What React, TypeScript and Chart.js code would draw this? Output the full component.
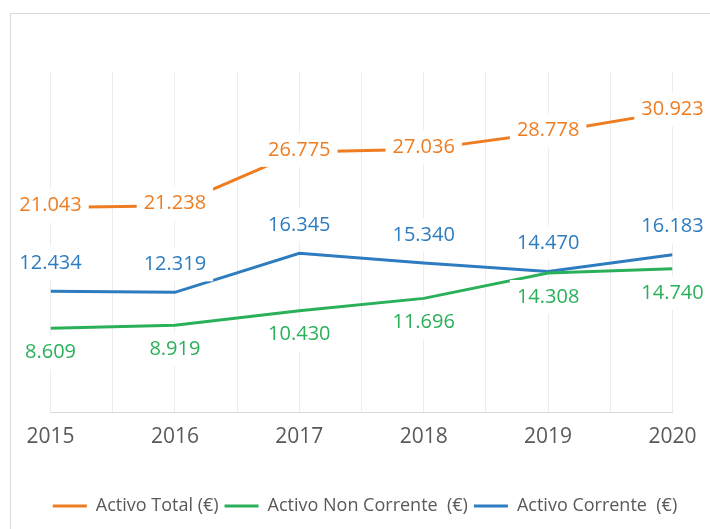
import React, { useEffect, useRef } from "react";
import { Chart, registerables } from "chart.js";

Chart.register(...registerables);

const years = ["2015", "2016", "2017", "2018", "2019", "2020"];
const activoTotal = [21043, 21238, 26775, 27036, 28778, 30923];
const activoNonCorrente = [8609, 8919, 10430, 11696, 14308, 14740];
const activoCorrente = [12434, 12319, 16345, 15340, 14470, 16183];
const seriesNames = ["Activo Total (€)", "Activo Non Corrente  (€)", "Activo Corrente  (€)"];
const seriesColors = ["#EE7D22", "#2BB05A", "#2E7CC0"];
const labelOffsets = [-2, 24, -28];

const FONT = "'Open Sans', 'Noto Sans', sans-serif";

function fmt(v: number): string {
  return Math.round(v).toString().replace(/\B(?=(\d{3})+(?!\d))/g, ".");
}

const framePlugin = {
  id: "frame",
  beforeDraw(chart: any) {
    const ctx = chart.ctx;
    ctx.save();
    ctx.fillStyle = "#ffffff";
    ctx.fillRect(0, 0, chart.width, chart.height);
    ctx.strokeStyle = "#d9d9d9";
    ctx.lineWidth = 1;
    ctx.strokeRect(10.5, 13.5, 760, 600);
    ctx.restore();
  },
};

const labelPlugin = {
  id: "valueLabels",
  afterDatasetsDraw(chart: any) {
    const ctx = chart.ctx;
    ctx.save();
    ctx.font = `20px ${FONT}`;
    ctx.textAlign = "center";
    ctx.textBaseline = "middle";
    chart.data.datasets.forEach((ds: any, di: number) => {
      const meta = chart.getDatasetMeta(di);
      meta.data.forEach((el: any, i: number) => {
        const raw = ds.data[i];
        const v = typeof raw === "object" ? raw.y : raw;
        const text = fmt(v);
        const x = el.x;
        const y = el.y + labelOffsets[di];
        const w = ctx.measureText(text).width + 14;
        const h = 34;
        ctx.fillStyle = "#ffffff";
        ctx.fillRect(x - w / 2, y - h / 2, w, h);
        ctx.fillStyle = seriesColors[di];
        ctx.fillText(text, x, y);
      });
    });
    ctx.restore();
  },
};

export default function App() {
  const ref = useRef<HTMLCanvasElement | null>(null);

  useEffect(() => {
    if (!ref.current) return;
    const series = [activoTotal, activoNonCorrente, activoCorrente];
    const chart = new Chart(ref.current, {
      type: "line",
      data: {
        datasets: series.map((arr, si) => ({
          label: seriesNames[si],
          data: arr.map((v, i) => ({ x: i, y: v })),
          borderColor: seriesColors[si],
          backgroundColor: seriesColors[si],
          borderWidth: 3,
          pointRadius: 0,
          pointStyle: "line",
          tension: 0,
          fill: false,
        })),
      },
      options: {
        responsive: false,
        animation: false,
        layout: { padding: { left: 20, right: 0, top: 72, bottom: 4 } },
        scales: {
          x: {
            type: "linear",
            min: 0,
            max: 5,
            grid: { color: "#ececec", lineWidth: 1, drawTicks: false },
            border: { color: "#d9d9d9", width: 1 },
            ticks: {
              stepSize: 0.5,
              autoSkip: false,
              maxRotation: 0,
              padding: 12,
              color: "#595959",
              font: { family: FONT, size: 21 },
              callback: (v: any) => (Number.isInteger(v) ? years[v] : ""),
            },
            afterFit: (s: any) => {
              s.height = 79;
            },
          },
          y: {
            position: "left",
            min: 0,
            max: 35000,
            grid: { display: false },
            border: { display: false },
            ticks: { display: false },
            afterFit: (s: any) => {
              s.width = 30.5;
            },
          },
          y2: {
            position: "right",
            min: 0,
            max: 1,
            grid: { display: false },
            border: { display: false },
            ticks: { display: false },
            afterFit: (s: any) => {
              s.width = 37.5;
            },
          },
        },
        plugins: {
          legend: {
            position: "bottom",
            labels: {
              usePointStyle: true,
              pointStyle: "line",
              pointStyleWidth: 34,
              boxWidth: 34,
              padding: 6,
              color: "#595959",
              font: { family: FONT, size: 18 },
            },
          },
          tooltip: { enabled: false },
        },
      },
      plugins: [framePlugin, labelPlugin],
    } as any);
    return () => chart.destroy();
  }, []);

  return (
    <div style={{ position: "fixed", left: 0, top: 0, width: 710, height: 529 }}>
      <canvas ref={ref} width={710} height={529} style={{ display: "block" }} />
    </div>
  );
}
